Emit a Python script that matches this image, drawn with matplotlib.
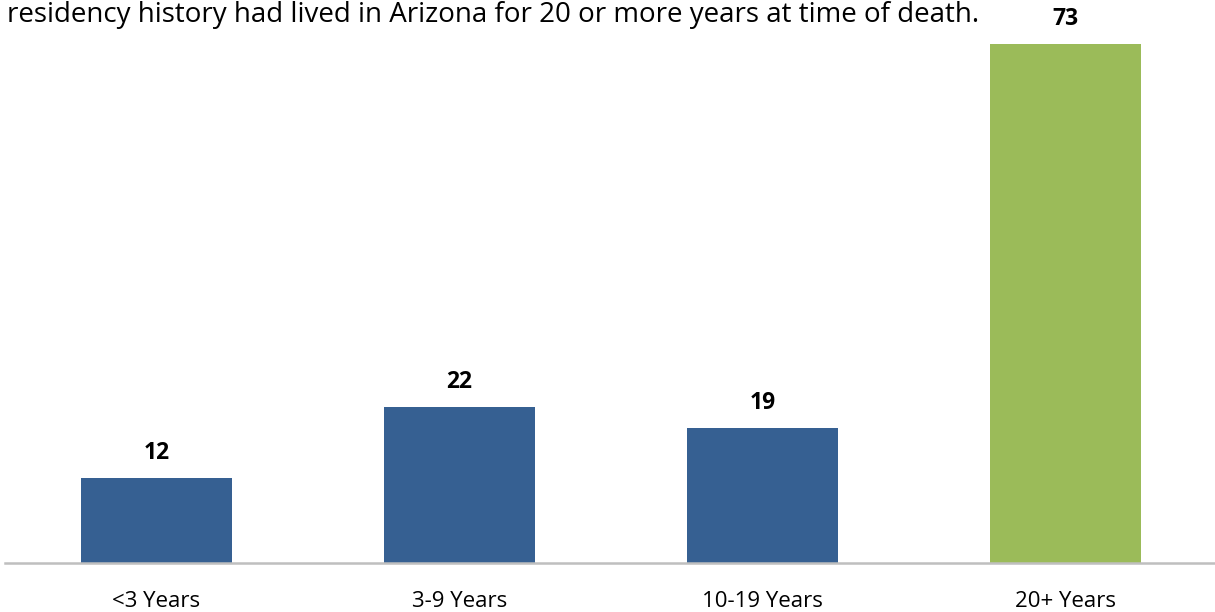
import matplotlib.pyplot as plt

# data
categories = ['<3 Years', '3-9 Years', '10-19 Years', '20+ Years']
counts = [12, 22, 19, 73]
bar_colors = ['#366092', '#366092', '#366092', '#9BBB59']
caption = 'residency history had lived in Arizona for 20 or more years at time of death.'

plt.rcParams['font.family'] = ['Open Sans', 'DejaVu Sans']

W, H = 1215, 612
fig = plt.figure(figsize=(W / 100, H / 100), dpi=100)
# axes placed in pixels: baseline at y=563, top of the 73 bar at y=44
x0, x1 = 5, 1217
y_base, y_top = 563, 44
ax = fig.add_axes([x0 / W, (H - y_base) / H, (x1 - x0) / W, (y_base - y_top) / H])

x = range(len(categories))
ax.bar(x, counts, width=0.5, color=bar_colors)
ax.set_xlim(-0.5, len(categories) - 0.5)
ax.set_ylim(0, max(counts))

for i, v in enumerate(counts):
    ax.annotate(str(v), (i, v), xytext=(0, 18), textcoords='offset points',
                ha='center', va='center', fontsize=16.5, fontweight='bold',
                color='#000000', annotation_clip=False)

ax.set_xticks(list(x))
ax.set_xticklabels(categories, fontsize=16)
ax.tick_params(axis='x', length=0, pad=20)
ax.set_yticks([])
for s in ['top', 'right', 'left']:
    ax.spines[s].set_visible(False)
ax.spines['bottom'].set_color('#BFBFBF')
ax.spines['bottom'].set_linewidth(1.8)

fig.text(7 / W, 1 - 15 / H, caption, fontsize=20, ha='left', va='center')

fig.savefig('out.png', dpi=100)
